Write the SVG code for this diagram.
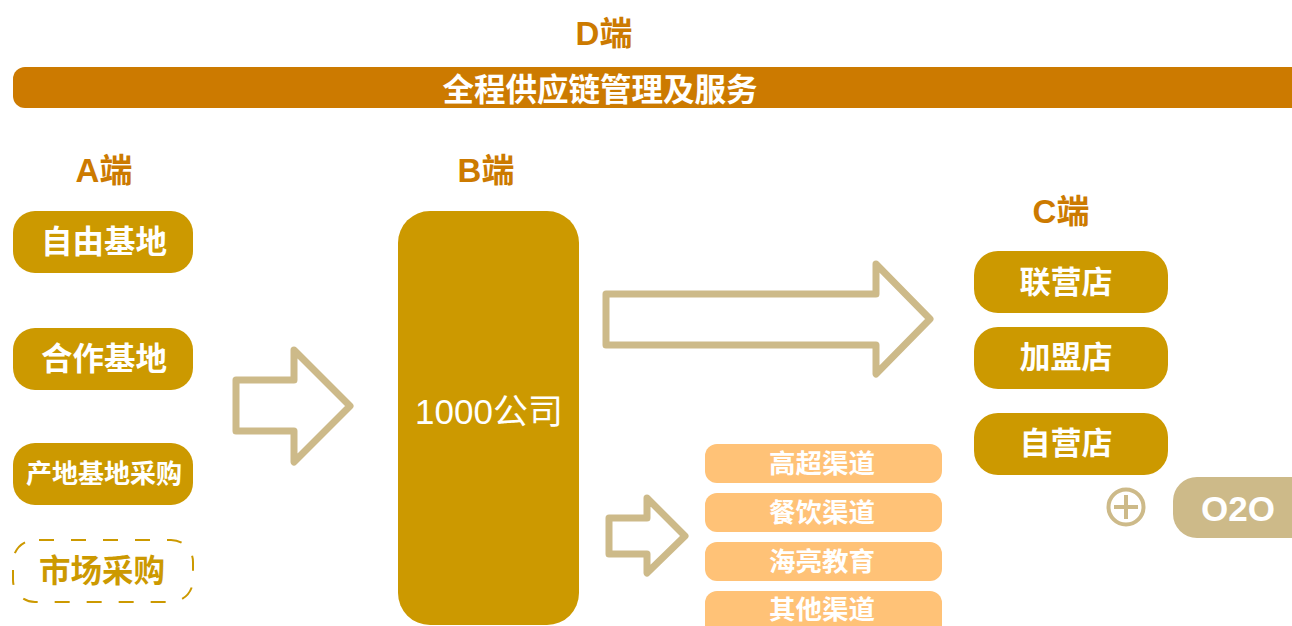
<svg xmlns="http://www.w3.org/2000/svg" width="1292" height="626" viewBox="0 0 1292 626">
<style>
text{font-family:"Liberation Sans","Noto Sans CJK SC",sans-serif;text-anchor:middle;dominant-baseline:central}
.hd{fill:#CC7A00;font-size:33px;font-weight:bold}
.gold{fill:#CC9900}
.wt{fill:#fff;font-weight:bold}
.arr{fill:#fff;stroke:#CDBA89;stroke-width:7;stroke-linejoin:round}
.ch{fill:#FFC277}
</style>
<rect width="1292" height="626" fill="#fff"/>
<g id="d-end">
<text class="hd" x="604" y="33">D端</text>
<rect x="13" y="67" width="1300" height="41" rx="12" fill="#CC7A00"/>
<text class="wt" x="600" y="90" font-size="31.5">全程供应链管理及服务</text>
</g>
<g id="a-label"><text class="hd" x="104" y="170">A端</text></g>
<g id="b-label"><text class="hd" x="486" y="170">B端</text></g>
<g id="c-label"><text class="hd" x="1061" y="211">C端</text></g>
<g id="a1"><rect class="gold" x="13" y="211" width="180" height="62" rx="22"/><text class="wt" x="104" y="242" font-size="31.5">自由基地</text></g>
<g id="a2"><rect class="gold" x="13" y="328" width="180" height="62" rx="22"/><text class="wt" x="104" y="359" font-size="31.5">合作基地</text></g>
<g id="a3"><rect class="gold" x="13" y="443" width="180" height="62" rx="22"/><text class="wt" x="104" y="474" font-size="26">产地基地采购</text></g>
<g id="a4"><rect x="13" y="540" width="180" height="62" rx="22" fill="none" stroke="#CC9900" stroke-width="2" stroke-dasharray="15 17" stroke-dashoffset="-4"/><text x="102" y="571" font-size="31.5" font-weight="bold" fill="#CC9900">市场采购</text></g>
<g id="b1"><rect class="gold" x="398" y="211" width="181" height="414" rx="32"/><text x="489" y="411" font-size="35" fill="#fff">1000公司</text></g>
<g id="c1"><rect class="gold" x="974" y="251" width="194" height="62" rx="24"/><text class="wt" x="1066" y="282" font-size="31">联营店</text></g>
<g id="c2"><rect class="gold" x="974" y="327" width="194" height="62" rx="24"/><text class="wt" x="1066" y="357" font-size="31">加盟店</text></g>
<g id="c3"><rect class="gold" x="974" y="413" width="194" height="62" rx="24"/><text class="wt" x="1066" y="443" font-size="31">自营店</text></g>
<g id="ch1"><rect class="ch" x="705" y="444" width="237" height="39" rx="12"/><text class="wt" x="822" y="464" font-size="26.5">高超渠道</text></g>
<g id="ch2"><rect class="ch" x="705" y="493" width="237" height="39" rx="12"/><text class="wt" x="822" y="513" font-size="26.5">餐饮渠道</text></g>
<g id="ch3"><rect class="ch" x="705" y="542" width="237" height="39" rx="12"/><text class="wt" x="822" y="562" font-size="26.5">海亮教育</text></g>
<g id="ch4"><rect class="ch" x="705" y="591" width="237" height="48" rx="12"/><text class="wt" x="822" y="610" font-size="26.5">其他渠道</text></g>
<g id="plus"><circle cx="1126" cy="507" r="17.5" fill="none" stroke="#CDBA89" stroke-width="4"/><path d="M1126 495v24M1114 507h24" stroke="#CDBA89" stroke-width="4"/></g>
<g id="o2o"><rect x="1173" y="477" width="150" height="61" rx="24" fill="#CDBA89"/><text class="wt" x="1238" y="508" font-size="35">O2O</text></g>
<g id="connectors">
<path class="arr" d="M236 380H294V350L350 406L294 462V431H236Z"/>
<path class="arr" d="M606 294H876V264L930 319L876 374V345H606Z"/>
<path class="arr" d="M609 518H647V498L685 536L647 573V554H609Z"/>
</g>
</svg>
